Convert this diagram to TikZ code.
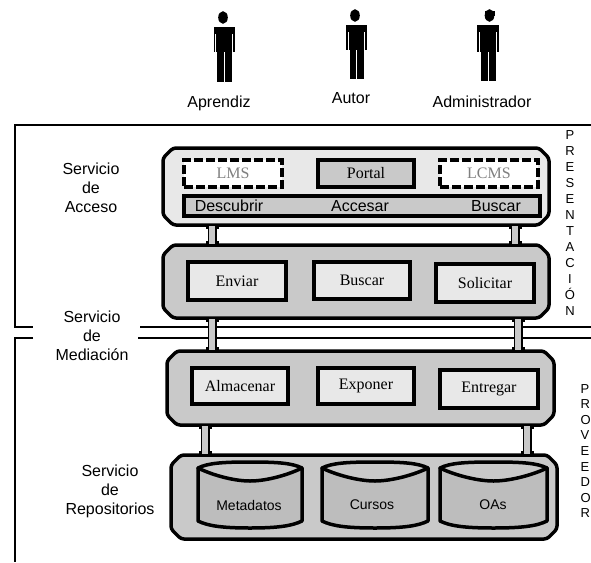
\documentclass[tikz,border=0pt]{standalone}
\usepackage{fontspec}
\setmainfont{Liberation Serif}
\newfontfamily\arialf{Liberation Sans}
\usetikzlibrary{arrows.meta}
\definecolor{lgray}{gray}{0.91}
\definecolor{mgray}{gray}{0.79}
\definecolor{dgray}{gray}{0.74}
\tikzset{
  x=1pt,y=-1pt,
  layer/.style={rectangle,inner sep=0pt,outer sep=0pt},
  service/.style={rectangle,draw=black,line width=3.5pt,inner sep=0pt,outer sep=0pt,font=\fontsize{16}{16}\selectfont},
  dashbox/.style={rectangle,draw=black,line width=3.5pt,dash pattern=on 9pt off 3pt,fill=white,text=black!50,inner sep=0pt,outer sep=0pt,font=\fontsize{16}{16}\selectfont},
  label/.style={font=\arialf\fontsize{16}{19}\selectfont,align=center,inner sep=0pt},
  side/.style={font=\arialf\fontsize{13}{16}\selectfont,align=left,inner sep=0pt},
  sidelow/.style={font=\arialf\fontsize{13}{15.6}\selectfont,align=left,inner sep=0pt},
  bartext/.style={font=\arialf\fontsize{16}{16}\selectfont,inner sep=0pt},
  dbtext/.style={font=\arialf\fontsize{14}{14}\selectfont,inner sep=0pt},
  frameline/.style={line width=2pt,line cap=butt},
  conn/.style={line width=9pt,draw=black,{Bar[width=13pt,line width=4pt]}-{Bar[width=13pt,line width=4pt]},
     postaction={draw=mgray,line width=6pt,arrows=-,shorten >=1pt,shorten <=1pt}},
}
% outline of a layer, chamfered and slightly rounded, round a named node
\newcommand{\capa}[2]{%
  \filldraw[line width=3.5pt,fill=#2,rounded corners=3pt,line join=round]
    ([xshift=10pt]#1.north west) -- ([xshift=-10pt]#1.north east) -- ([yshift=-10pt]#1.north east)
    -- ([yshift=10pt]#1.south east) -- ([xshift=-10pt]#1.south east) -- ([xshift=10pt]#1.south west)
    -- ([yshift=10pt]#1.south west) -- ([yshift=-10pt]#1.north west) -- cycle;
}
\newcommand{\figura}[6]{% torso x1, x2, top y, torso bottom y, foot y, head x
  \begin{scope}[shift={(#1,#3)}]
    \pgfmathsetmacro{\wdt}{#2-#1}
    \pgfmathsetmacro{\midx}{\wdt/2}
    \pgfmathsetmacro{\bot}{#4-#3}
    \pgfmathsetmacro{\ft}{#5-#3}
    \fill (#6-#1,-9.5) ellipse (4.8 and 6.3);
    \fill (0,0) rectangle (\wdt,\bot);
    \fill (3.5,\bot) rectangle (\wdt-3.5,\ft);
    \fill[white] (\midx-0.4,\bot) rectangle (\midx+0.4,\ft);
    \fill[white] (1.6,7) rectangle (2.6,\bot+1);
    \fill[white] (\wdt-2.6,7) rectangle (\wdt-1.6,\bot+1);
  \end{scope}
}
\newcommand{\cilindro}[2]{% x left, x right
  \pgfmathsetmacro{\xm}{(#1+#2)/2}
  \filldraw[line width=3.5pt,fill=dgray,line join=round]
    (#1,468) -- (#1,521) .. controls (#1+10,526) and (#1+25,528) .. (\xm,528)
    .. controls (#2-25,528) and (#2-10,526) .. (#2,521) -- (#2,468) -- cycle;
  \filldraw[line width=3.5pt,fill=mgray,line join=round]
    (#1,468) .. controls (#1+10,463) and (#1+25,462) .. (\xm,462)
    .. controls (#2-25,462) and (#2-10,463) .. (#2,468)
    .. controls (#2-12,474) and (\xm+18,481) .. (\xm,481)
    .. controls (\xm-18,481) and (#1+12,474) .. (#1,468) -- cycle;
}
\begin{document}
\begin{tikzpicture}
\useasboundingbox (0,0) rectangle (591,562);

% actors
\figura{213.5}{235}{27}{52}{82}{223}
\figura{346}{367}{25}{50}{79}{355}
\figura{477}{499}{25}{52}{81}{489.5}
\fill (484.5,11) rectangle (495,16);
\node[label] (aprendiz) at (219,103) {Aprendiz};
\node[label] (autor) at (351,98.5) {Autor};
\node[label] (admin) at (482,101.5) {Administrador};

% frames
\coordinate (f1) at (591,125);
\coordinate (f2) at (15,125);
\coordinate (f3) at (15,327);
\coordinate (f4) at (33,327);
\coordinate (f5) at (140,327);
\coordinate (f6) at (591,327);
\coordinate (f7) at (138,338);
\coordinate (f8) at (591,338);
\coordinate (f9) at (33,338);
\coordinate (f10) at (15,338);
\coordinate (f11) at (15,562);
\draw[frameline] (f1) -- (f2) -- (f3) -- (f4);
\draw[frameline] (f5) -- (f6);
\draw[frameline] (f7) -- (f8);
\draw[frameline] (f9) -- (f10) -- (f11);

% side labels
\node[label] (sacc) at (91,188) {Servicio\\de\\Acceso};
\node[label] (smed) at (92,336) {Servicio\\de\\Mediación};
\node[label] (srep) at (110,491) {Servicio\\de\\Repositorios};
\node[side,anchor=north,align=center] (pres) at (570,130) {P\\R\\E\\S\\E\\N\\T\\A\\C\\I\\Ó\\N};
\node[sidelow,anchor=north west] (prov) at (580.5,384) {P\\R\\O\\V\\E\\E\\D\\O\\R};

% layers
\node[layer,minimum width=386pt,minimum height=77pt] (acc) at (356,186.5) {};
\node[layer,minimum width=386pt,minimum height=73pt] (env) at (356,281.5) {};
\node[layer,minimum width=387pt,minimum height=74pt] (alm) at (360.5,388) {};
\node[layer,minimum width=386pt,minimum height=84pt] (rep) at (364,497) {};
\capa{acc}{lgray}
\capa{env}{mgray}
\capa{alm}{mgray}
\capa{rep}{mgray}

% access layer
\node[dashbox,minimum width=98pt,minimum height=27pt] (lms) at (233,173.5) {LMS};
\node[service,fill=mgray,minimum width=96pt,minimum height=27pt] (portal) at (366,173.5) {Portal};
\node[dashbox,minimum width=98pt,minimum height=27pt] (lcms) at (489,173.5) {LCMS};
\node[service,fill=mgray,minimum width=356pt,minimum height=20pt] (bar) at (362,206) {};
\node[bartext] (desc) at (229,206) {Descubrir};
\node[bartext] (acs) at (360,206) {Accesar};
\node[bartext] (bus) at (496,206) {Buscar};

% middle services
\node[service,fill=lgray,minimum width=98pt,minimum height=38pt] (enviar) at (237,281) {Enviar};
\node[service,fill=lgray,minimum width=96pt,minimum height=37pt] (buscar) at (362,280.5) {Buscar};
\node[service,fill=lgray,minimum width=98pt,minimum height=38pt] (solic) at (485,283) {Solicitar};
\node[service,fill=lgray,minimum width=96pt,minimum height=36pt] (almac) at (240,386) {Almacenar};
\node[service,fill=lgray,minimum width=96pt,minimum height=36pt] (expon) at (366,386) {Exponer};
\node[service,fill=lgray,minimum width=98pt,minimum height=38pt] (entre) at (489,389) {Entregar};

% repositories
\cilindro{198}{302}
\cilindro{322}{428}
\cilindro{440}{547}
\node[dbtext] (meta) at (249,505) {Metadatos};
\node[dbtext] (curs) at (372,505) {Cursos};
\node[dbtext] (oas) at (493,505) {OAs};

% connectors
\coordinate (a1) at (212,0);
\coordinate (a2) at (515,0);
\coordinate (b1) at (212,0);
\coordinate (b2) at (518,0);
\coordinate (c1) at (205,0);
\coordinate (c2) at (527,0);
\draw[conn] (acc.south -| a1) -- (env.north -| a1);
\draw[conn] (acc.south -| a2) -- (env.north -| a2);
\draw[conn] (env.south -| b1) -- (alm.north -| b1);
\draw[conn] (env.south -| b2) -- (alm.north -| b2);
\draw[conn] (alm.south -| c1) -- (rep.north -| c1);
\draw[conn] (alm.south -| c2) -- (rep.north -| c2);
\end{tikzpicture}
\end{document}
